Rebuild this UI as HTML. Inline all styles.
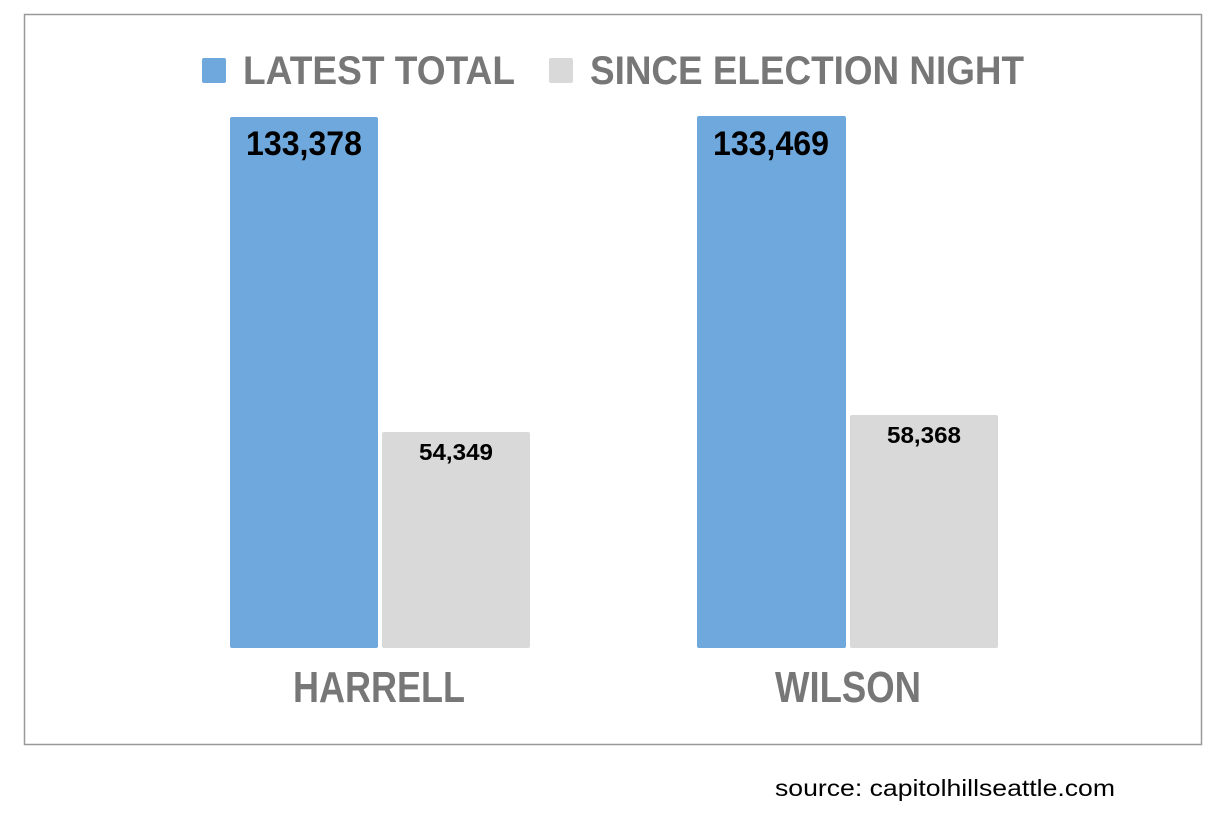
<!DOCTYPE html>
<html><head><style>body{margin:0;background:#fff}</style></head><body>
<svg width="1226" height="812" xmlns="http://www.w3.org/2000/svg" font-family="Liberation Sans, sans-serif">
<rect x="0" y="0" width="1226" height="812" fill="#fff"/>
<rect x="24.5" y="14.5" width="1177" height="730" fill="#fff" stroke="#999" stroke-width="1.5"/>
<rect x="202" y="58" width="24" height="25" rx="2" fill="#6fa8dc"/>
<text x="243" y="84" font-size="40" font-weight="bold" fill="#777" textLength="272" lengthAdjust="spacingAndGlyphs">LATEST TOTAL</text>
<rect x="549" y="58" width="24" height="25" rx="2" fill="#d9d9d9"/>
<text x="590" y="84" font-size="40" font-weight="bold" fill="#777" textLength="434" lengthAdjust="spacingAndGlyphs">SINCE ELECTION NIGHT</text>
<rect x="230" y="117" width="148" height="531" rx="2" fill="#6fa8dc"/>
<rect x="382" y="432" width="148" height="216" rx="2" fill="#d9d9d9"/>
<rect x="697" y="116" width="149" height="532" rx="2" fill="#6fa8dc"/>
<rect x="850" y="415" width="148" height="233" rx="2" fill="#d9d9d9"/>
<text x="246" y="155" font-size="34" font-weight="bold" fill="#000" textLength="116" lengthAdjust="spacingAndGlyphs">133,378</text>
<text x="713" y="155" font-size="34" font-weight="bold" fill="#000" textLength="116" lengthAdjust="spacingAndGlyphs">133,469</text>
<text x="419" y="460" font-size="23" font-weight="bold" fill="#000" textLength="74" lengthAdjust="spacingAndGlyphs">54,349</text>
<text x="887" y="443" font-size="23" font-weight="bold" fill="#000" textLength="74" lengthAdjust="spacingAndGlyphs">58,368</text>
<text x="293" y="702" font-size="44" font-weight="bold" fill="#777" textLength="172" lengthAdjust="spacingAndGlyphs">HARRELL</text>
<text x="775" y="702" font-size="44" font-weight="bold" fill="#777" textLength="146" lengthAdjust="spacingAndGlyphs">WILSON</text>
<text x="775" y="796" font-size="23" fill="#000" textLength="340" lengthAdjust="spacingAndGlyphs">source: capitolhillseattle.com</text>
</svg>
</body></html>
